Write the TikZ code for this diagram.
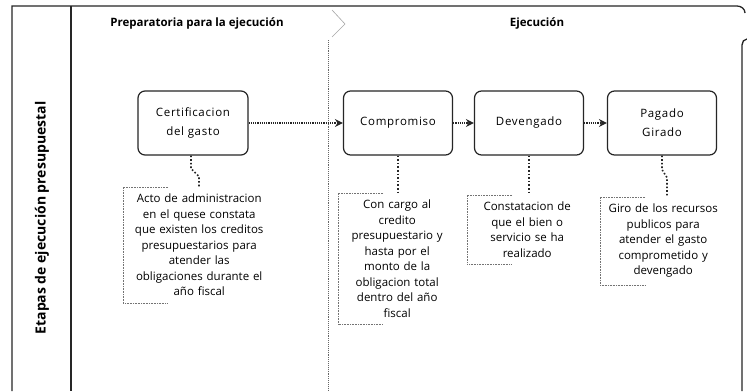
\documentclass[tikz,border=0pt]{standalone}
\usepackage{fontspec}
\setmainfont{Open Sans}
\newfontfamily\taskfont[LetterSpace=6]{Open Sans}
\usepackage{tikz}
\usetikzlibrary{arrows.meta}
\tikzstyle{lane}=[draw=black!85, line width=1.3pt]
\tikzstyle{task}=[draw=black!85, line width=1.2pt, rounded corners=7pt, minimum width=109pt, minimum height=64pt, align=center, font=\taskfont\fontsize{11.5}{19}\selectfont]
\tikzstyle{phase}=[font=\bfseries\fontsize{11.5}{13}\selectfont]
\tikzstyle{annot}=[anchor=north west, align=center, inner xsep=0pt, inner ysep=7pt, font=\fontsize{11.5}{15.5}\selectfont]
\tikzstyle{bracketline}=[draw=black!55, densely dotted, line width=0.6pt]
\tikzstyle{assoc}=[draw=black!85, dotted, line width=1.6pt]
\tikzstyle{flow}=[draw=black!85, densely dotted, line width=1.2pt, -{Stealth[length=8pt,width=8pt]}]

\begin{document}
\begin{tikzpicture}[x=1pt,y=-1pt]
		\useasboundingbox[fill=white] (0,0) rectangle (747,391);
		% pool frame and lane label column
		\draw[lane] (12,391) -- (12,6) -- (737,6) to[out=0,in=90] (745,13);
		\draw[lane] (71,6) -- (71,391);
		\draw[lane] (742,391) -- (742,45) to[out=90,in=180] (747,39);
		\node[rotate=90, font=\bfseries\fontsize{14}{16}\selectfont] (etapas) at (42,218) {Etapas de ejecución presupuestal};
		% phases
		\draw[draw=black!35, line width=0.6pt] (332,10) -- (345,24) -- (332,37);
		\draw[draw=black!60, densely dotted, line width=0.9pt] (328,40) -- (328,391);
		\node[phase] (prep) at (197,23) {Preparatoria para la ejecución};
		\node[phase] (ejec) at (537,23) {Ejecución};
		% tasks
		\node[task, minimum width=110pt] (cert) at (193,123) {Certificacion\\del gasto};
		\node[task] (comp) at (398,123) {Compromiso};
		\node[task] (dev) at (529,123) {Devengado};
		\node[task] (pag) at (662,123) {Pagado\\Girado};
		\draw[flow] (cert) -- (comp);
		\draw[flow] (comp) -- (dev);
		\draw[flow] (dev) -- (pag);
		% annotations
		\node[annot, text width=152pt] (certnote) at (123,187) {Acto de administracion\\en el quese constata\\que existen los creditos\\presupuestarios para\\atender las\\obligaciones durante el\\año fiscal};
		\node[annot, text width=118pt] (compnote) at (338,193) {Con cargo al\\credito\\presupuestario y\\hasta por el\\monto de la\\obligacion total\\dentro del año\\fiscal};
		\node[annot, text width=120pt] (devnote) at (467,195) {Constatacion de\\que el bien o\\servicio se ha\\realizado};
		\node[annot, text width=126pt] (pagnote) at (600,197) {Giro de los recursos\\publicos para\\atender el gasto\\comprometido y\\devengado};
		\foreach \n in {certnote,compnote,devnote,pagnote}
			\draw[bracketline] ([xshift=45pt]\n.north west) -- (\n.north west) -- (\n.south west) -- ([xshift=45pt]\n.south west);
		% associations
		\draw[assoc] ([xshift=-2pt]cert.south) -- ++(0,13) -- ++(8,8) coordinate (c1) -- (c1 |- certnote.north);
		\draw[assoc] (comp.south) -- (comp.south |- compnote.north);
		\draw[assoc] (dev.south) -- (dev.south |- devnote.north);
		\draw[assoc] (pag.south) -- ++(0,14) -- ++(5,8) coordinate (c2) -- (c2 |- pagnote.north);
	\end{tikzpicture}
\end{document}
